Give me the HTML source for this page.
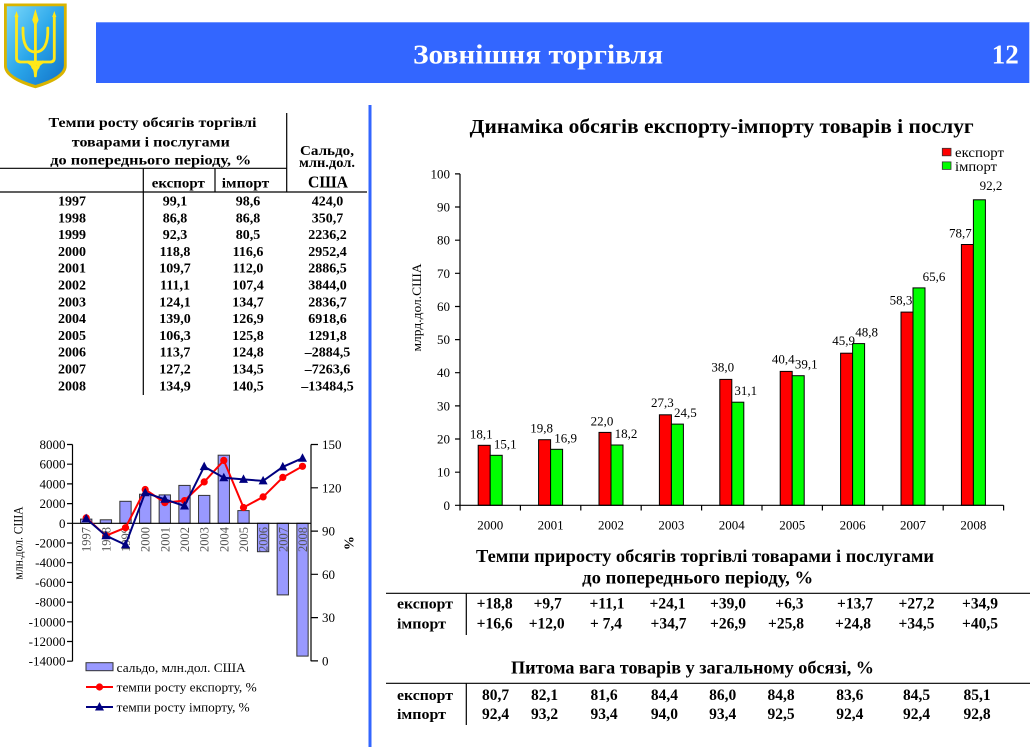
<!DOCTYPE html>
<html><head><meta charset="utf-8"><style>html,body{margin:0;padding:0;background:#fff;}svg{display:block}</style></head>
<body>
<svg width="1033" height="752" viewBox="0 0 1033 752" xmlns="http://www.w3.org/2000/svg" font-family="'Liberation Serif', 'Noto Serif CJK SC', serif">
<defs>
<linearGradient id="sh" x1="0" y1="0" x2="1" y2="1">
<stop offset="0" stop-color="#7ad8fa"/><stop offset="0.5" stop-color="#2aa6ea"/><stop offset="1" stop-color="#1272c8"/>
</linearGradient>
</defs>
<rect width="1033" height="752" fill="#fff"/>

<!-- Coat of arms -->
<path d="M4,3.5 H66.7 V66 Q66.7,79 35.4,88.3 Q4,79 4,66 Z" fill="#d9b400"/>
<path d="M6.8,6.3 H63.9 V65.5 Q63.9,76.5 35.4,85 Q6.8,76.5 6.8,65.5 Z" fill="url(#sh)"/>
<g fill="none" stroke="#ffe81a" stroke-width="2.8" stroke-linejoin="round" stroke-linecap="round">
<path d="M16.5,16 L16.5,58 Q16.5,62 21,62 L50,62 Q54.3,62 54.3,58 L54.3,16"/>
<path d="M35.4,52 C27,52 22.5,44 23,28"/>
<path d="M35.4,52 C43.8,52 48.3,44 47.8,28"/>
<path d="M35.4,24 V74"/>
<path d="M28,62 Q35.4,66 35.4,76 Q35.4,66 42.8,62"/>
<circle cx="35.4" cy="66" r="3"/>
</g>
<path d="M35.4,9 L38.6,20 L36.8,24 H34 L32.2,20 Z" fill="#ffe81a"/>
<path d="M16.5,11 L18.6,17 H14.4 Z M54.3,11 L56.4,17 H52.2 Z" fill="#ffe81a"/>

<!-- Header bar -->
<rect x="96" y="22" width="933.3" height="61" fill="#3366ff"/>
<line x1="96" y1="22.5" x2="1029.3" y2="22.5" stroke="#6f94ff" stroke-width="1"/>
<text x="538" y="63.3" text-anchor="middle" font-size="27" font-weight="bold" fill="#fff" textLength="250" lengthAdjust="spacingAndGlyphs">Зовнішня торгівля</text>
<text x="1005.3" y="63.3" text-anchor="middle" font-size="27" font-weight="bold" fill="#fff" textLength="27" lengthAdjust="spacingAndGlyphs">12</text>

<!-- Divider -->
<rect x="368.5" y="105" width="3" height="642" fill="#3366ff"/>

<!-- Left table -->
<g font-weight="bold" font-size="14" fill="#000">
<text x="152.5" y="127" text-anchor="middle" textLength="208" lengthAdjust="spacingAndGlyphs">Темпи росту обсягів торгівлі</text>
<text x="150.8" y="146.7" text-anchor="middle" textLength="158" lengthAdjust="spacingAndGlyphs">товарами і послугами</text>
<text x="150.8" y="164.3" text-anchor="middle" textLength="201" lengthAdjust="spacingAndGlyphs">до попереднього періоду, %</text>
<text x="327" y="155" text-anchor="middle" textLength="54" lengthAdjust="spacingAndGlyphs">Сальдо,</text>
<text x="327" y="167" text-anchor="middle" textLength="56" lengthAdjust="spacingAndGlyphs">млн.дол.</text>
<text x="328" y="187.3" text-anchor="middle" font-size="17" textLength="40" lengthAdjust="spacingAndGlyphs">США</text>
<text x="178.3" y="187.3" text-anchor="middle" textLength="53" lengthAdjust="spacingAndGlyphs">експорт</text>
<text x="245.5" y="187.3" text-anchor="middle" textLength="47.5" lengthAdjust="spacingAndGlyphs">імпорт</text>
</g>
<g stroke="#000" stroke-width="1.2">
<line x1="286.7" y1="113" x2="286.7" y2="192"/>
<line x1="0" y1="168.3" x2="287" y2="168.3"/>
<line x1="0" y1="192" x2="367" y2="192"/>
<line x1="143.3" y1="168.3" x2="143.3" y2="395"/>
<line x1="215" y1="168.3" x2="215" y2="192"/>
</g>
<g font-weight="bold" font-size="14" fill="#000" text-anchor="middle">
<g transform="translate(0,0)">
<text x="72" y="205.5">1997</text><text x="175" y="205.5">99,1</text><text x="248" y="205.5">98,6</text><text x="327.5" y="205.5">424,0</text>
<text x="72" y="222.3">1998</text><text x="175" y="222.3">86,8</text><text x="248" y="222.3">86,8</text><text x="327.5" y="222.3">350,7</text>
<text x="72" y="239.1">1999</text><text x="175" y="239.1">92,3</text><text x="248" y="239.1">80,5</text><text x="327.5" y="239.1">2236,2</text>
<text x="72" y="255.9">2000</text><text x="175" y="255.9">118,8</text><text x="248" y="255.9">116,6</text><text x="327.5" y="255.9">2952,4</text>
<text x="72" y="272.7">2001</text><text x="175" y="272.7">109,7</text><text x="248" y="272.7">112,0</text><text x="327.5" y="272.7">2886,5</text>
<text x="72" y="289.5">2002</text><text x="175" y="289.5">111,1</text><text x="248" y="289.5">107,4</text><text x="327.5" y="289.5">3844,0</text>
<text x="72" y="306.3">2003</text><text x="175" y="306.3">124,1</text><text x="248" y="306.3">134,7</text><text x="327.5" y="306.3">2836,7</text>
<text x="72" y="323.1">2004</text><text x="175" y="323.1">139,0</text><text x="248" y="323.1">126,9</text><text x="327.5" y="323.1">6918,6</text>
<text x="72" y="339.9">2005</text><text x="175" y="339.9">106,3</text><text x="248" y="339.9">125,8</text><text x="327.5" y="339.9">1291,8</text>
<text x="72" y="356.7">2006</text><text x="175" y="356.7">113,7</text><text x="248" y="356.7">124,8</text><text x="327.5" y="356.7">–2884,5</text>
<text x="72" y="373.5">2007</text><text x="175" y="373.5">127,2</text><text x="248" y="373.5">134,5</text><text x="327.5" y="373.5">–7263,6</text>
<text x="72" y="390.3">2008</text><text x="175" y="390.3">134,9</text><text x="248" y="390.3">140,5</text><text x="327.5" y="390.3">–13484,5</text>
</g>
</g>

<!-- Left chart -->
<g fill="#9999ff" stroke="#333" stroke-width="1">
<rect x="80.55" y="519.1" width="11.3" height="4.2"/>
<rect x="100.25" y="519.8" width="11.3" height="3.5"/>
<rect x="119.85" y="501.3" width="11.3" height="22"/>
<rect x="139.55" y="494.2" width="11.3" height="29.1"/>
<rect x="159.15" y="494.9" width="11.3" height="28.4"/>
<rect x="178.85" y="485.4" width="11.3" height="37.9"/>
<rect x="198.55" y="495.4" width="11.3" height="27.9"/>
<rect x="218.15" y="455.2" width="11.3" height="68.1"/>
<rect x="237.85" y="510.6" width="11.3" height="12.7"/>
<rect x="257.45" y="523.3" width="11.3" height="28.4"/>
<rect x="277.15" y="523.3" width="11.3" height="71.6"/>
<rect x="296.85" y="523.3" width="11.3" height="132.8"/>
</g>
<g font-size="12.5" fill="#555" text-anchor="end">
<text transform="translate(90.7,527) rotate(-90)">1997</text>
<text transform="translate(110.4,527) rotate(-90)">1998</text>
<text transform="translate(130,527) rotate(-90)">1999</text>
<text transform="translate(149.7,527) rotate(-90)">2000</text>
<text transform="translate(169.3,527) rotate(-90)">2001</text>
<text transform="translate(189,527) rotate(-90)">2002</text>
<text transform="translate(208.7,527) rotate(-90)">2003</text>
<text transform="translate(228.3,527) rotate(-90)">2004</text>
<text transform="translate(248,527) rotate(-90)">2005</text>
<text transform="translate(267.6,527) rotate(-90)">2006</text>
<text transform="translate(287.3,527) rotate(-90)">2007</text>
<text transform="translate(307,527) rotate(-90)">2008</text>
</g>
<g stroke="#000" stroke-width="1.2" fill="none">
<line x1="72.5" y1="444.5" x2="72.5" y2="661.2"/>
<line x1="311" y1="444.5" x2="311" y2="661.2"/>
<line x1="72.5" y1="523.3" x2="311" y2="523.3"/>
<path d="M67,444.5H72.5M67,464.2H72.5M67,483.9H72.5M67,503.6H72.5M67,523.3H72.5M67,543H72.5M67,562.7H72.5M67,582.4H72.5M67,602.1H72.5M67,621.8H72.5M67,641.5H72.5M67,661.2H72.5"/>
<path d="M311,444.5H318M311,487.8H318M311,531.1H318M311,574.3H318M311,617.6H318M311,660.9H318"/>
</g>
<g font-size="13" fill="#000" text-anchor="end">
<text x="65.5" y="449">8000</text>
<text x="65.5" y="468.7">6000</text>
<text x="65.5" y="488.4">4000</text>
<text x="65.5" y="508.1">2000</text>
<text x="65.5" y="527.8">0</text>
<text x="65.5" y="547.5">-2000</text>
<text x="65.5" y="567.2">-4000</text>
<text x="65.5" y="586.9">-6000</text>
<text x="65.5" y="606.6">-8000</text>
<text x="65.5" y="626.3">-10000</text>
<text x="65.5" y="646">-12000</text>
<text x="65.5" y="665.7">-14000</text>
</g>
<g font-size="13" fill="#000">
<text x="322" y="449">150</text>
<text x="322" y="492.3">120</text>
<text x="322" y="535.6">90</text>
<text x="322" y="578.8">60</text>
<text x="322" y="622.1">30</text>
<text x="322" y="665.4">0</text>
</g>
<text transform="translate(22.5,543) rotate(-90)" text-anchor="middle" font-size="13" textLength="73" lengthAdjust="spacingAndGlyphs">млн.дол. США</text>
<text transform="translate(344.5,543) rotate(90)" text-anchor="middle" font-size="14" font-weight="bold">%</text>

<polyline fill="none" stroke="#ff0000" stroke-width="2" points="86.2,517.9 105.9,535.7 125.5,527.7 145.2,489.5 164.8,502.6 184.5,500.6 204.2,481.9 223.8,460.4 243.5,507.5 263.1,496.9 282.8,477.4 302.5,466.3"/>
<g fill="#ff0000">
<circle cx="86.2" cy="517.9" r="3.6"/><circle cx="105.9" cy="535.7" r="3.6"/><circle cx="125.5" cy="527.7" r="3.6"/><circle cx="145.2" cy="489.5" r="3.6"/><circle cx="164.8" cy="502.6" r="3.6"/><circle cx="184.5" cy="500.6" r="3.6"/><circle cx="204.2" cy="481.9" r="3.6"/><circle cx="223.8" cy="460.4" r="3.6"/><circle cx="243.5" cy="507.5" r="3.6"/><circle cx="263.1" cy="496.9" r="3.6"/><circle cx="282.8" cy="477.4" r="3.6"/><circle cx="302.5" cy="466.3" r="3.6"/>
</g>
<polyline fill="none" stroke="#000080" stroke-width="2" points="86.2,518.6 105.9,535.7 125.5,544.8 145.2,492.7 164.8,499.3 184.5,506 204.2,466.6 223.8,477.8 243.5,479.4 263.1,480.9 282.8,466.9 302.5,458.2"/>
<g fill="#000080">
<path d="M86.2,513.6l-4.5,8.5h9z M105.9,530.7l-4.5,8.5h9z M125.5,539.8l-4.5,8.5h9z M145.2,487.7l-4.5,8.5h9z M164.8,494.3l-4.5,8.5h9z M184.5,501l-4.5,8.5h9z M204.2,461.6l-4.5,8.5h9z M223.8,472.8l-4.5,8.5h9z M243.5,474.4l-4.5,8.5h9z M263.1,475.9l-4.5,8.5h9z M282.8,461.9l-4.5,8.5h9z M302.5,453.2l-4.5,8.5h9z"/>
</g>

<!-- Left legend -->
<rect x="86" y="662.7" width="27" height="8" fill="#9999ff" stroke="#333" stroke-width="1"/>
<text x="116.7" y="672" font-size="13" textLength="129" lengthAdjust="spacingAndGlyphs">сальдо, млн.дол. США</text>
<line x1="86" y1="687" x2="113" y2="687" stroke="#ff0000" stroke-width="2"/>
<circle cx="99.5" cy="687" r="3.6" fill="#ff0000"/>
<text x="116.7" y="691.5" font-size="13" textLength="140" lengthAdjust="spacingAndGlyphs">темпи росту експорту, %</text>
<line x1="86" y1="707" x2="113" y2="707" stroke="#000080" stroke-width="2"/>
<path d="M99.5,702l-4.5,8.5h9z" fill="#000080"/>
<text x="116.7" y="711.5" font-size="13" textLength="133" lengthAdjust="spacingAndGlyphs">темпи росту імпорту, %</text>

<!-- Right bar chart -->
<text x="721.7" y="133" text-anchor="middle" font-size="20" font-weight="bold" textLength="504" lengthAdjust="spacingAndGlyphs">Динаміка обсягів експорту-імпорту товарів і послуг</text>
<rect x="942.3" y="148.3" width="8.7" height="7.5" fill="#ff0000" stroke="#333" stroke-width="0.8"/>
<text x="955" y="156.8" font-size="14" textLength="49" lengthAdjust="spacingAndGlyphs">експорт</text>
<rect x="942.3" y="161.9" width="8.7" height="7.5" fill="#00ff00" stroke="#333" stroke-width="0.8"/>
<text x="955" y="171" font-size="14" textLength="42" lengthAdjust="spacingAndGlyphs">імпорт</text>

<text transform="translate(421,307.5) rotate(-90)" text-anchor="middle" font-size="13" textLength="88" lengthAdjust="spacingAndGlyphs">млрд.дол.США</text>

<g stroke="#000" stroke-width="1">
<rect x="478.2" y="445.3" width="12" height="60" fill="#ff0000"/>
<rect x="490.2" y="455.3" width="12" height="50" fill="#00ff00"/>
<rect x="538.6" y="439.7" width="12" height="65.6" fill="#ff0000"/>
<rect x="550.6" y="449.3" width="12" height="56" fill="#00ff00"/>
<rect x="599" y="432.4" width="12" height="72.9" fill="#ff0000"/>
<rect x="611" y="445" width="12" height="60.3" fill="#00ff00"/>
<rect x="659.4" y="414.8" width="12" height="90.5" fill="#ff0000"/>
<rect x="671.4" y="424.1" width="12" height="81.2" fill="#00ff00"/>
<rect x="719.8" y="379.4" width="12" height="125.9" fill="#ff0000"/>
<rect x="731.8" y="402.2" width="12" height="103.1" fill="#00ff00"/>
<rect x="780.2" y="371.4" width="12" height="133.9" fill="#ff0000"/>
<rect x="792.2" y="375.7" width="12" height="129.6" fill="#00ff00"/>
<rect x="840.6" y="353.2" width="12" height="152.1" fill="#ff0000"/>
<rect x="852.6" y="343.6" width="12" height="161.7" fill="#00ff00"/>
<rect x="901" y="312.1" width="12" height="193.2" fill="#ff0000"/>
<rect x="913" y="287.9" width="12" height="217.4" fill="#00ff00"/>
<rect x="961.4" y="244.5" width="12" height="260.8" fill="#ff0000"/>
<rect x="973.4" y="199.8" width="12" height="305.5" fill="#00ff00"/>
</g>
<g stroke="#000" stroke-width="1.2" fill="none">
<line x1="460" y1="173.9" x2="460" y2="505.3"/>
<line x1="460" y1="505.3" x2="1003.6" y2="505.3"/>
<path d="M455,505.3H460M455,472.2H460M455,439H460M455,405.9H460M455,372.7H460M455,339.6H460M455,306.5H460M455,273.3H460M455,240.2H460M455,207H460M455,173.9H460"/>
<path d="M460,505.3V510.5M520.4,505.3V510.5M580.8,505.3V510.5M641.2,505.3V510.5M701.6,505.3V510.5M762,505.3V510.5M822.4,505.3V510.5M882.8,505.3V510.5M943.2,505.3V510.5M1003.6,505.3V510.5"/>
</g>
<g font-size="13" fill="#000" text-anchor="end">
<text x="450" y="509.8">0</text><text x="450" y="476.7">10</text><text x="450" y="443.5">20</text><text x="450" y="410.4">30</text><text x="450" y="377.2">40</text><text x="450" y="344.1">50</text><text x="450" y="311">60</text><text x="450" y="277.8">70</text><text x="450" y="244.7">80</text><text x="450" y="211.5">90</text><text x="450" y="178.4">100</text>
</g>
<g font-size="13" fill="#000" text-anchor="middle">
<text x="490.2" y="529.5">2000</text><text x="550.6" y="529.5">2001</text><text x="611" y="529.5">2002</text><text x="671.4" y="529.5">2003</text><text x="731.8" y="529.5">2004</text><text x="792.2" y="529.5">2005</text><text x="852.6" y="529.5">2006</text><text x="913" y="529.5">2007</text><text x="973.4" y="529.5">2008</text>
</g>
<g font-size="13" fill="#000" text-anchor="middle">
<text x="481.2" y="438.3">18,1</text><text x="505.2" y="448.3">15,1</text>
<text x="541.6" y="432.7">19,8</text><text x="565.6" y="442.3">16,9</text>
<text x="602" y="425.4">22,0</text><text x="626" y="438">18,2</text>
<text x="662.4" y="406.8">27,3</text><text x="685.4" y="417.1">24,5</text>
<text x="722.8" y="371.4">38,0</text><text x="745.8" y="395.2">31,1</text>
<text x="783.2" y="363.4">40,4</text><text x="806.2" y="368.7">39,1</text>
<text x="843.6" y="345.2">45,9</text><text x="866.6" y="336.6">48,8</text>
<text x="901" y="304.3">58,3</text><text x="934" y="281">65,6</text>
<text x="960.4" y="237.5">78,7</text><text x="991" y="190">92,2</text>
</g>

<!-- Bottom tables -->
<text x="705" y="562" text-anchor="middle" font-size="17.5" font-weight="bold" textLength="458" lengthAdjust="spacingAndGlyphs">Темпи  приросту обсягів торгівлі товарами і послугами</text>
<text x="697.7" y="583.3" text-anchor="middle" font-size="17.5" font-weight="bold" textLength="231" lengthAdjust="spacingAndGlyphs">до попереднього періоду, %</text>
<g stroke="#000" stroke-width="1.2">
<line x1="386" y1="593.3" x2="1030" y2="593.3"/>
<line x1="466.3" y1="593.3" x2="466.3" y2="635"/>
<line x1="386" y1="683.3" x2="1030" y2="683.3"/>
<line x1="466.3" y1="683.3" x2="466.3" y2="725"/>
</g>
<g font-size="15" font-weight="bold" fill="#000">
<text x="397" y="608.5" textLength="56" lengthAdjust="spacingAndGlyphs">експорт</text>
<text x="397" y="628.5" textLength="49" lengthAdjust="spacingAndGlyphs">імпорт</text>
<text x="397" y="700" textLength="56" lengthAdjust="spacingAndGlyphs">експорт</text>
<text x="397" y="718.8" textLength="49" lengthAdjust="spacingAndGlyphs">імпорт</text>
</g>
<g font-size="15.5" font-weight="bold" fill="#000" text-anchor="middle">
<text x="494.6" y="608.5">+18,8</text><text x="547.7" y="608.5">+9,7</text><text x="607" y="608.5">+11,1</text><text x="667.5" y="608.5">+24,1</text><text x="728" y="608.5">+39,0</text><text x="789.4" y="608.5">+6,3</text><text x="855" y="608.5">+13,7</text><text x="916.5" y="608.5">+27,2</text><text x="980" y="608.5">+34,9</text>
<text x="494.6" y="628.5">+16,6</text><text x="546.7" y="628.5">+12,0</text><text x="606" y="628.5">+ 7,4</text><text x="668.5" y="628.5">+34,7</text><text x="728" y="628.5">+26,9</text><text x="786" y="628.5">+25,8</text><text x="853" y="628.5">+24,8</text><text x="916.5" y="628.5">+34,5</text><text x="980" y="628.5">+40,5</text>
</g>
<text x="692.5" y="673.3" text-anchor="middle" font-size="17.5" font-weight="bold" textLength="363" lengthAdjust="spacingAndGlyphs">Питома вага товарів у загальному обсязі, %</text>
<g font-size="15.5" font-weight="bold" fill="#000" text-anchor="middle">
<text x="495.6" y="700">80,7</text><text x="544.6" y="700">82,1</text><text x="604" y="700">81,6</text><text x="664.4" y="700">84,4</text><text x="722.7" y="700">86,0</text><text x="781" y="700">84,8</text><text x="849.8" y="700">83,6</text><text x="916.5" y="700">84,5</text><text x="977" y="700">85,1</text>
<text x="495.6" y="718.8">92,4</text><text x="544.6" y="718.8">93,2</text><text x="604" y="718.8">93,4</text><text x="664.4" y="718.8">94,0</text><text x="722.7" y="718.8">93,4</text><text x="781" y="718.8">92,5</text><text x="849.8" y="718.8">92,4</text><text x="916.5" y="718.8">92,4</text><text x="977" y="718.8">92,8</text>
</g>
</svg>
</body></html>
